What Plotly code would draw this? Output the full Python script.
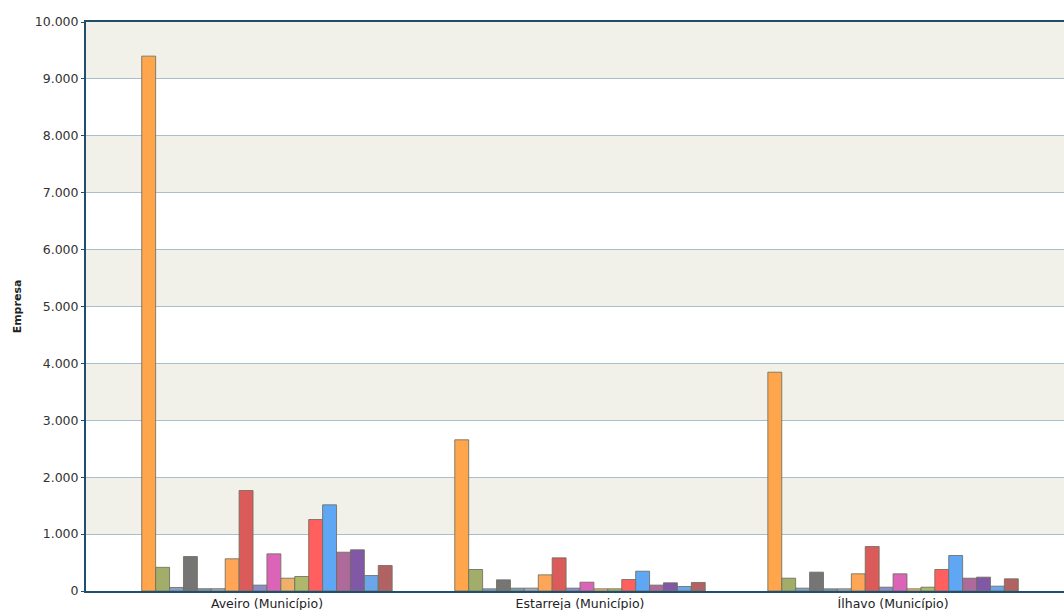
import plotly.graph_objects as go

# Municipalities on the category axis
municipios = ["Aveiro (Município)", "Estarreja (Município)", "Ílhavo (Município)"]

# Number of companies per activity series, one list per municipality
aveiro = [9400, 416, 62, 606, 40, 40, 566, 1766, 103, 653, 225, 255, 1256, 1514, 682, 724, 272, 448]
estarreja = [2657, 378, 38, 196, 50, 50, 284, 583, 50, 155, 38, 38, 202, 348, 103, 144, 79, 150]
ilhavo = [3845, 225, 50, 331, 38, 38, 302, 782, 67, 302, 38, 67, 378, 624, 225, 243, 85, 214]

series_names = [f"Série {i + 1}" for i in range(len(aveiro))]

# Strong (top) colour of each series
base_colors = [
    "#ff8000", "#7a8a28", "#5577aa", "#3a3a3a", "#4a6e8a", "#7a8a9a",
    "#ff7f10", "#cc1414", "#5a5ab0", "#cc2299", "#e8902a", "#8a9a2a",
    "#ff1a1a", "#1a80f0", "#8a2a70", "#4a1080", "#2a80e0", "#902020",
]

y_ticks = list(range(0, 10001, 1000))


def soften(hex_color, keep=0.7):
    """Mix a colour with white so the bar reads like a faded fill."""
    h = hex_color.lstrip("#")
    r, g, b = (int(h[i:i + 2], 16) for i in (0, 2, 4))
    mix = lambda c: round(c * keep + 255 * (1 - keep))
    return f"rgb({mix(r)},{mix(g)},{mix(b)})"


fig = go.Figure()
for i, name in enumerate(series_names):
    fig.add_trace(go.Bar(
        x=municipios,
        y=[aveiro[i], estarreja[i], ilhavo[i]],
        name=name,
        marker=dict(
            color=soften(base_colors[i]),
            line=dict(color="rgba(110,110,95,0.85)", width=1),
        ),
    ))

# Alternating beige bands behind every other 1.000 step
for lo in range(1000, 10000, 2000):
    fig.add_shape(
        type="rect", xref="paper", yref="y",
        x0=0, x1=1, y0=lo, y1=lo + 1000,
        fillcolor="#f1f1ea", line=dict(width=0), layer="below",
    )

axis_color = "#1f4f6a"
fig.update_layout(
    width=1064, height=610,
    margin=dict(l=86, r=0, t=22, b=19),
    paper_bgcolor="white", plot_bgcolor="white",
    barmode="group", bargap=0.2, bargroupgap=0,
    showlegend=False,
    separators=",.",
    font=dict(family="DejaVu Sans, Verdana, sans-serif", size=12, color="#333333"),
)
fig.update_xaxes(
    range=[-0.578, 2.546],
    showline=True, linecolor=axis_color, linewidth=2, mirror=True,
    showgrid=False, ticks="", ticklen=0,
    tickfont=dict(size=12.5, color="#222222"),
)
fig.update_yaxes(
    range=[0, 10000],
    tickvals=y_ticks, tickformat=",d",
    showline=True, linecolor=axis_color, linewidth=2,
    showgrid=True, gridcolor="#a9bfcc", gridwidth=1,
    zeroline=False,
    ticks="outside", ticklen=3, tickcolor=axis_color,
    tickfont=dict(size=12.5, color="#333333"),
    title=dict(text="<b>Empresa</b>", font=dict(size=11, color="#222222"), standoff=11),
)

fig.write_html("out.html")
